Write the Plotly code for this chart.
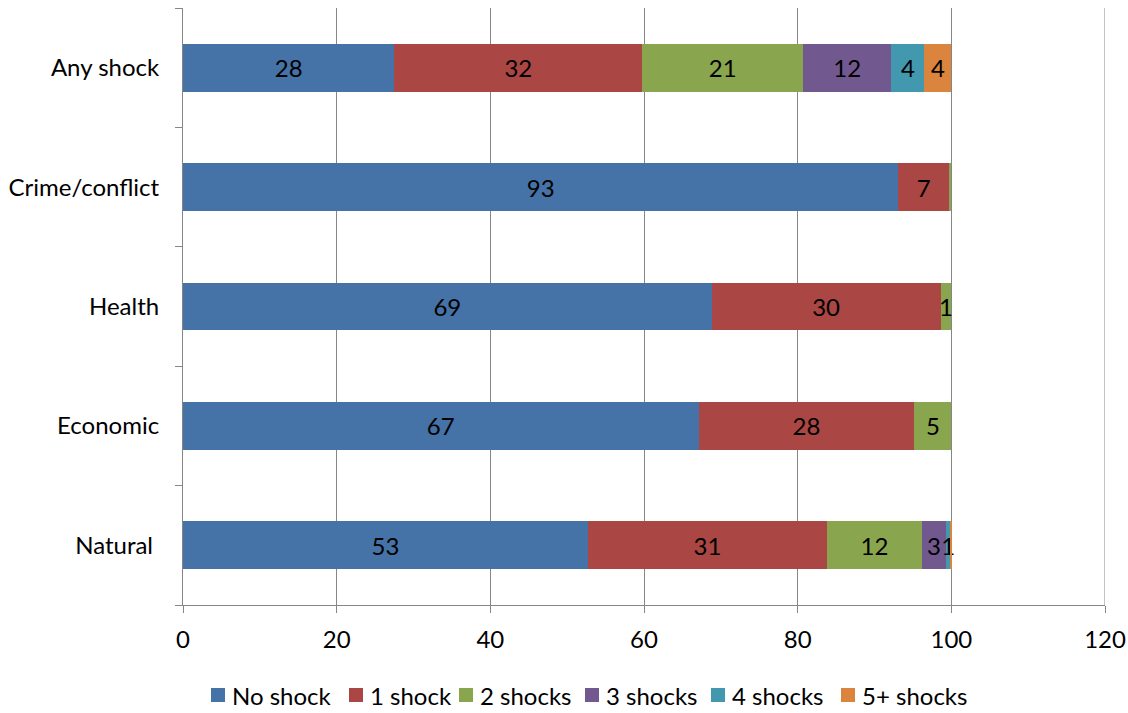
import plotly.graph_objects as go

categories = ["Natural\u00a0", "Economic", "Health", "Crime/conflict", "Any shock"]
series_names = ["No shock", "1 shock", "2 shocks", "3 shocks", "4 shocks", "5+ shocks"]
no_shock = [52.7, 67.1, 68.8, 93.1, 27.5]
one_shock = [31.1, 28.1, 29.8, 6.6, 32.3]
two_shocks = [12.4, 4.8, 1.4, 0.3, 20.9]
three_shocks = [3.1, 0.0, 0.0, 0.0, 11.5]
four_shocks = [0.6, 0.0, 0.0, 0.0, 4.3]
five_shocks = [0.1, 0.0, 0.0, 0.0, 3.5]
colors = ["#4572A7", "#AA4643", "#89A54E", "#71588F", "#4198AF", "#DB843D"]
x_ticks = [0, 20, 40, 60, 80, 100, 120]

# layout constants (pixels)
W, H = 1128, 713
ML, MR, MT, MB = 183, 23, 8, 108
PW, PH = W - ML - MR, H - MT - MB
legend_item_px = [211, 349, 459, 585, 711, 841]   # left edge of each legend swatch
legend_mid_px = 695
swatch = 14

FONT = "Lato, 'Open Sans', sans-serif"
FS = 24
fig = go.Figure()
for name, vals, col in zip(series_names,
                           [no_shock, one_shock, two_shocks, three_shocks, four_shocks, five_shocks],
                           colors):
    labels = [str(round(v)) if round(v) > 0 else "" for v in vals]
    fig.add_trace(go.Bar(
        y=categories, x=vals, name=name, orientation="h",
        marker=dict(color=col, line=dict(width=0)),
        text=labels, textposition="inside", insidetextanchor="middle",
        textangle=0, cliponaxis=False,
        textfont=dict(size=FS, color="black", family=FONT),
        hoverinfo="x+name", showlegend=False,
    ))

def px_x(px):
    return (px - ML) / PW

def px_y(py):
    return (H - MB - py) / PH

# legend drawn as swatches + labels
for name, col, lx in zip(series_names, colors, legend_item_px):
    fig.add_shape(type="rect", xref="paper", yref="paper",
                  x0=px_x(lx), x1=px_x(lx + swatch),
                  y0=px_y(legend_mid_px + swatch / 2), y1=px_y(legend_mid_px - swatch / 2),
                  fillcolor=col, line=dict(width=0))
    fig.add_annotation(xref="paper", yref="paper", x=px_x(lx + swatch + 5),
                       y=px_y(legend_mid_px), text=name, showarrow=False,
                       xanchor="left", yanchor="middle",
                       font=dict(size=FS, color="black", family=FONT))

fig.update_layout(
    barmode="stack",
    bargap=0.6,
    width=W, height=H,
    margin=dict(l=ML, r=MR, t=MT, b=MB, autoexpand=False),
    paper_bgcolor="white", plot_bgcolor="white",
    font=dict(family=FONT, size=FS, color="black"),
    uniformtext=dict(minsize=FS, mode="show"),
    showlegend=False,
)
fig.update_xaxes(
    range=[0, 120], tickvals=x_ticks, ticktext=[str(v) for v in x_ticks],
    showgrid=True, gridcolor="#868686", gridwidth=1,
    showline=True, linecolor="#868686", linewidth=1,
    ticks="outside", ticklen=7, tickcolor="#868686",
    tickfont=dict(size=FS), zeroline=False, mirror=False,
    ticklabelstandoff=6, automargin=False,
)
fig.update_yaxes(
    categoryorder="array", categoryarray=categories,
    showline=True, linecolor="#868686", linewidth=1,
    ticks="outside", ticklen=7, tickcolor="#868686", tickson="boundaries",
    tickfont=dict(size=FS), ticklabelstandoff=18, showgrid=False,
    automargin=False,
)
fig.add_shape(type="line", xref="x", yref="paper", x0=120, x1=120, y0=0, y1=1,
              line=dict(color="#868686", width=1))

fig.write_html("out.html")
